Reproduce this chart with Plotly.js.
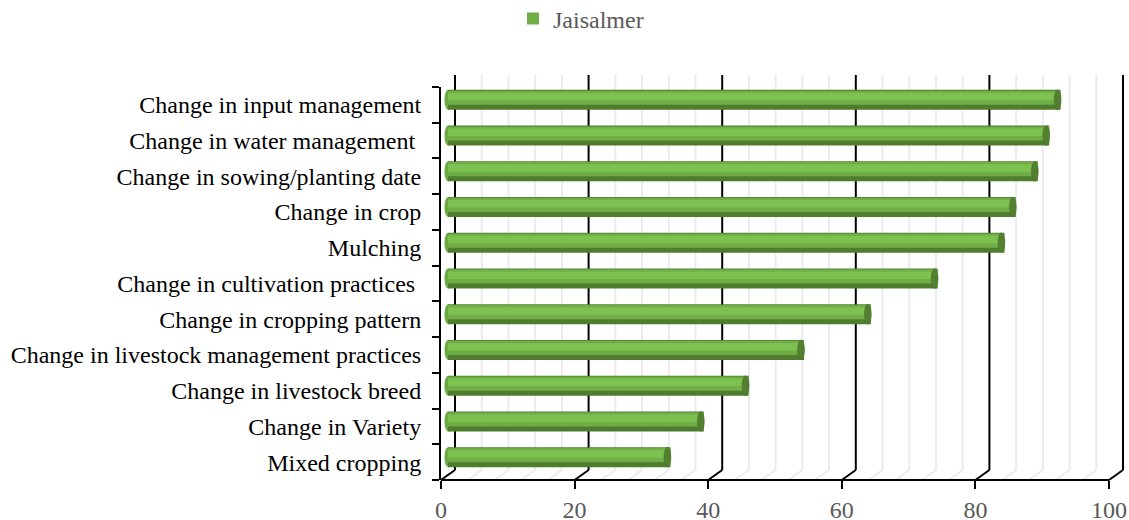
<!DOCTYPE html>
<html>
<head>
<meta charset="utf-8">
<script src="https://cdn.plot.ly/plotly-3.0.1.min.js"></script>
<style>html,body{margin:0;padding:0;background:#fff;}#chart{width:1129px;height:520px;}</style>
</head>
<body>
<div id="chart"></div>
<script>
// Categories, top to bottom as shown in the chart
const categories = [
  "Change in input management",
  "Change in water management\u00a0",
  "Change in sowing/planting date",
  "Change in crop",
  "Mulching",
  "Change in cultivation practices\u00a0",
  "Change in cropping pattern",
  "Change in livestock management practices",
  "Change in livestock breed",
  "Change in Variety",
  "Mixed cropping"
];
// Jaisalmer (%)
const jaisalmer = [91.7, 90.0, 88.3, 85.0, 83.3, 73.3, 63.3, 53.3, 45.0, 38.3, 33.3];
const seriesName = "Jaisalmer";
const xTicks = [0, 20, 40, 60, 80, 100];
const minorStep = 4;

// ---- geometry (pixels) ----
const W = 1129, H = 520;
const L = 441, T = 87, B = 480;
const pxPerUnit = (1109 - 441) / 100;         // front axis scale
const xMax = (W - L) / pxPerUnit;             // extend range to the right edge
const nCat = categories.length;
const catPx = (B - T) / nCat;
const depthX = 14, depthY = 10;               // 3-D back wall offset
const barShiftX = 7, barShiftY = 5;           // bars sit mid depth
const barPx = 20;

const yCats = categories.slice().reverse();
const yVals = jaisalmer.slice().reverse();
const baseUnits = barShiftX / pxPerUnit;

function band(a, b, color, name, showLeg) {
  // a,b: pixel rows from the bar's top edge
  const topAbove = barShiftY + barPx / 2;
  return {
    type: 'bar', orientation: 'h', name: name, showlegend: showLeg,
    y: yCats, x: yVals, base: yVals.map(() => baseUnits),
    width: (b - a) / catPx, offset: (topAbove - b) / catPx,
    marker: {color: color, line: {width: 0}},
    hoverinfo: 'skip'
  };
}

const traces = [
  band(0, 20, '#4f7c2d', seriesName + ' shade', false),
  band(0.8, 15, '#70ad47', seriesName, true),
  band(3, 10.5, '#7dc151', seriesName + ' hl', false)
];

const shapes = [];
const wallBottom = depthY / (B - T);
const wallTop = (B - 75) / (B - T);
// back wall + floor gridlines
for (let v = 0; v <= 100 + 1e-9; v += minorStep) {
  const major = xTicks.some(t => Math.abs(t - v) < 1e-6);
  const col = major ? '#000000' : '#ebebeb';
  shapes.push({type: 'line', layer: 'below', xref: 'x', yref: 'paper', xsizemode: 'pixel', xanchor: v,
    x0: depthX, x1: depthX, y0: wallBottom, y1: wallTop, line: {color: col, width: 2}});
  shapes.push({type: 'line', layer: 'below', xref: 'x', yref: 'paper', xsizemode: 'pixel', xanchor: v,
    x0: 0, x1: depthX, y0: 0, y1: wallBottom, line: {color: col, width: 2}});
}
// front x axis line
shapes.push({type: 'line', layer: 'above', xref: 'x', yref: 'paper', x0: 0, x1: 100, y0: 0, y1: 0,
  line: {color: '#000', width: 2}});
// cylinder end caps
yVals.forEach((v, i) => {
  const yc = i + barShiftY / catPx;
  shapes.push({type: 'circle', layer: 'above', xref: 'x', yref: 'y', xsizemode: 'pixel', ysizemode: 'pixel',
    xanchor: v + baseUnits, yanchor: yc, x0: -6.5, x1: 0.5, y0: -barPx / 2, y1: barPx / 2,
    fillcolor: '#527f30', line: {color: '#4a7429', width: 0.5}});
  shapes.push({type: 'circle', layer: 'below', xref: 'x', yref: 'y', xsizemode: 'pixel', ysizemode: 'pixel',
    xanchor: baseUnits, yanchor: yc, x0: -3.5, x1: 3.5, y0: -barPx / 2, y1: barPx / 2,
    fillcolor: '#6aa842', line: {width: 0}});
});

const font = '"Liberation Serif", "Times New Roman", serif';
const fs = 24;
const layout = {
  width: W, height: H,
  margin: {l: L, r: 0, t: T, b: H - B, pad: 0},
  paper_bgcolor: '#ffffff', plot_bgcolor: 'rgba(0,0,0,0)',
  barmode: 'overlay',
  font: {family: font, size: fs, color: '#595959'},
  showlegend: true,
  legend: {orientation: 'h', xref: 'container', yref: 'container', x: 513 / W, xanchor: 'left',
    y: 1 - 19 / H, yanchor: 'middle', font: {family: font, size: fs, color: '#595959'},
    bgcolor: 'rgba(0,0,0,0)', traceorder: 'normal'},
  xaxis: {range: [0, xMax], tickvals: xTicks, ticktext: xTicks.map(String), showgrid: false, zeroline: false,
    showline: false, ticks: 'outside', ticklen: 8, tickwidth: 2, tickcolor: '#000',
    tickfont: {family: font, size: fs, color: '#595959'}, ticklabelstandoff: 0, fixedrange: true},
  yaxis: {type: 'category', range: [-0.5, nCat - 0.5], showgrid: false, zeroline: false,
    showline: true, linecolor: '#000', linewidth: 2, ticks: 'outside', tickson: 'boundaries',
    ticklen: 7, tickwidth: 2, tickcolor: '#000', ticklabelstandoff: 13,
    tickfont: {family: font, size: fs, color: '#000'}, fixedrange: true},
  shapes: shapes
};

Plotly.newPlot('chart', traces, layout, {displayModeBar: false, staticPlot: true});
</script>
</body>
</html>
